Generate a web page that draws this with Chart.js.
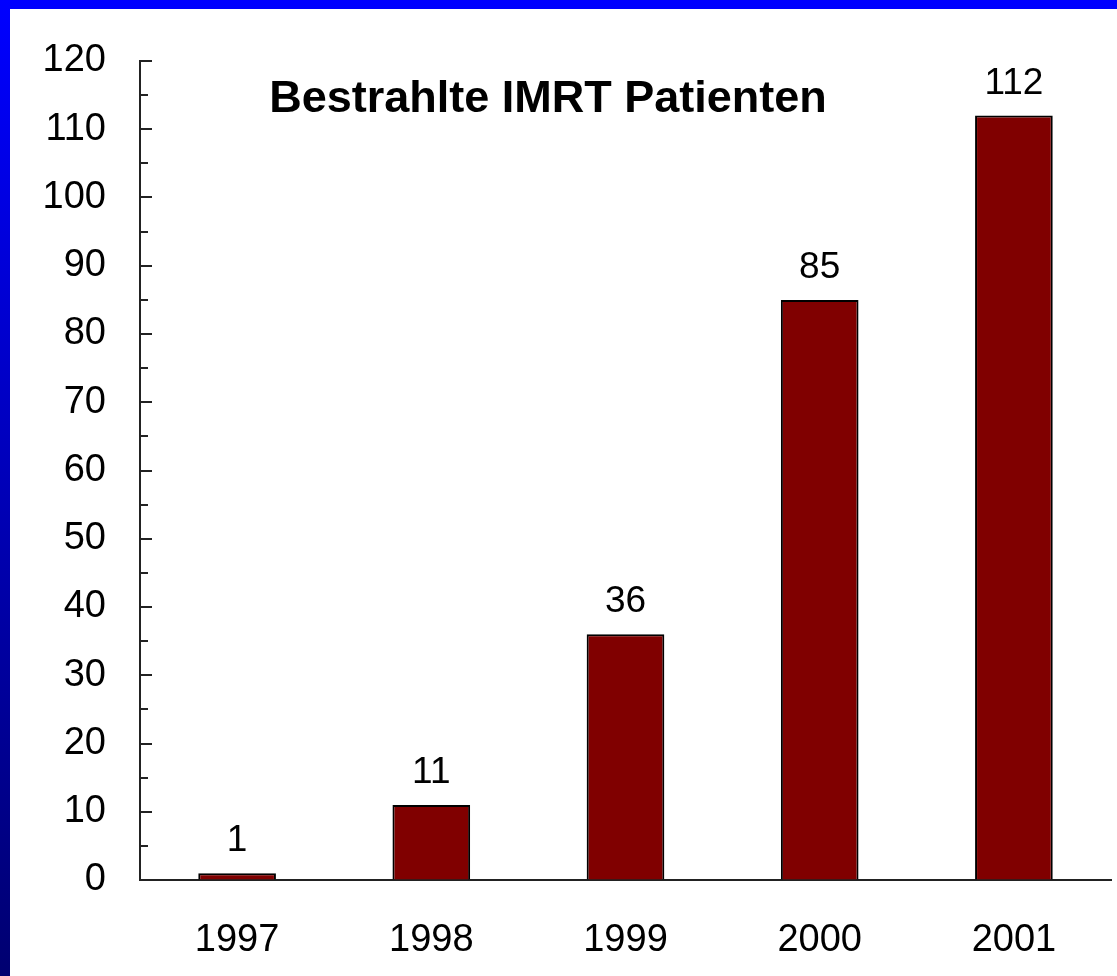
<!DOCTYPE html>
<html>
<head>
<meta charset="utf-8">
<script src="https://cdn.jsdelivr.net/npm/chart.js@4.4.1/dist/chart.umd.min.js"></script>
<style>
  html, body { margin: 0; padding: 0; }
  body {
    width: 1117px; height: 976px; overflow: hidden; position: relative;
    background: linear-gradient(to bottom, #0000ff, #000070);
  }
  #panel { position: absolute; left: 10px; top: 9px; right: 0; bottom: 0; background: #fff; }
  #wrap { position: absolute; left: 0; top: 0; width: 1117px; height: 976px; }
</style>
</head>
<body>
<div id="panel"></div>
<div id="wrap"><canvas id="chart" width="1117" height="976"></canvas></div>
<script>
const years = ['1997', '1998', '1999', '2000', '2001'];
const patients = [1, 11, 36, 85, 112];
const chartTitle = 'Bestrahlte IMRT Patienten';

const FONT = '"Liberation Sans", Arial, sans-serif';

// inward tick marks: long at every 10, short at every 5
const innerTicks = {
    id: 'innerTicks',
    afterDraw(chart) {
        const ctx = chart.ctx;
        const y = chart.scales.y;
        const left = chart.chartArea.left;
        ctx.save();
        ctx.strokeStyle = '#222';
        ctx.lineWidth = 2;
        for (let v = 0; v <= 120; v += 5) {
            const py = Math.round(y.getPixelForValue(v));
            const len = v % 10 === 0 ? 12 : 8;
            ctx.beginPath();
            ctx.moveTo(left - 1, py);
            ctx.lineTo(left + len, py);
            ctx.stroke();
        }
        ctx.restore();
    }
};

const barValues = {
    id: 'barValues',
    afterDatasetsDraw(chart) {
        const ctx = chart.ctx;
        const meta = chart.getDatasetMeta(0);
        ctx.save();
        ctx.fillStyle = '#000';
        ctx.font = '37px ' + FONT;
        ctx.textAlign = 'center';
        ctx.textBaseline = 'alphabetic';
        meta.data.forEach((bar, i) => {
            ctx.fillText(String(patients[i]), bar.x, bar.y - 22);
        });
        ctx.restore();
    }
};

const innerTitle = {
    id: 'innerTitle',
    afterDraw(chart) {
        const ctx = chart.ctx;
        ctx.save();
        ctx.fillStyle = '#000';
        ctx.font = 'bold 45px ' + FONT;
        ctx.textAlign = 'center';
        ctx.textBaseline = 'alphabetic';
        ctx.fillText(chartTitle, 548, 112);
        ctx.restore();
    }
};

new Chart(document.getElementById('chart'), {
    type: 'bar',
    data: {
        labels: years,
        datasets: [{
            data: patients,
            backgroundColor: '#800000',
            borderColor: '#000',
            borderWidth: 2,
            barPercentage: 0.4,
            categoryPercentage: 1
        }]
    },
    options: {
        responsive: false,
        animation: false,
        layout: { padding: { left: 0, top: 61, right: 6, bottom: 0 } },
        plugins: {
            legend: { display: false },
            title: { display: false },
            tooltip: { enabled: false }
        },
        scales: {
            x: {
                grid: { display: true, drawOnChartArea: false, drawTicks: false },
                border: { display: true, color: '#222', width: 2 },
                ticks: { color: '#000', font: { family: FONT, size: 38 }, padding: 38 },
                afterFit(scale) { scale.height = 96; }
            },
            y: {
                min: 0,
                max: 120,
                grid: { display: true, drawOnChartArea: false, drawTicks: false },
                border: { display: true, color: '#222', width: 2 },
                ticks: { stepSize: 10, color: '#000', font: { family: FONT, size: 38 }, padding: 34 },
                afterFit(scale) { scale.width = 140; }
            }
        }
    },
    plugins: [innerTicks, barValues, innerTitle]
});
</script>
</body>
</html>
